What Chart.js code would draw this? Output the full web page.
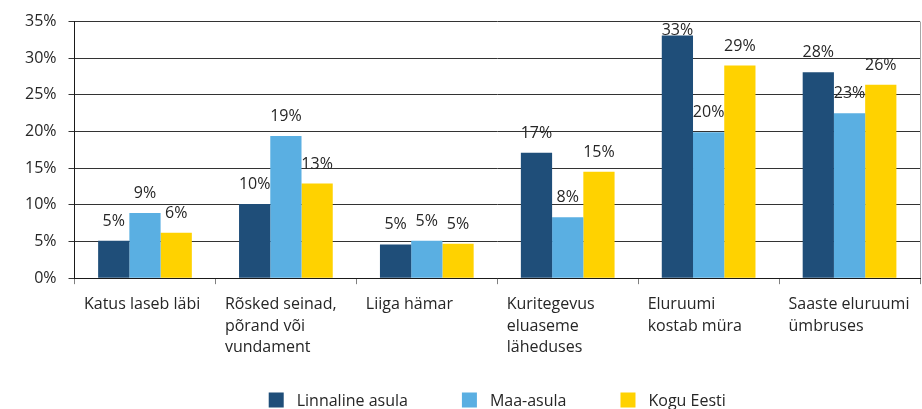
<!DOCTYPE html>
<html>
<head>
<meta charset="utf-8">
<script src="https://cdn.jsdelivr.net/npm/chart.js@4.4.0/dist/chart.umd.min.js"></script>
<style>
html, body { margin: 0; padding: 0; background: #fff; }
#wrap { width: 922px; height: 409px; }
</style>
</head>
<body>
<div id="wrap"><canvas id="chart" width="922" height="409"></canvas></div>
<script>
// andmed
const categories = [
    ['Katus laseb läbi'],
    ['Rõsked seinad,', 'põrand või', 'vundament'],
    ['Liiga hämar'],
    ['Kuritegevus', 'eluaseme', 'läheduses'],
    ['Eluruumi', 'kostab müra'],
    ['Saaste eluruumi', 'ümbruses']
];
const seriesNames = ['Linnaline asula', 'Maa-asula', 'Kogu Eesti'];
const linnaline = [5.1, 10.1, 4.6, 17.1, 33.1, 28.1];
const maaAsula = [8.9, 19.4, 5.1, 8.3, 19.9, 22.5];
const koguEesti = [6.2, 12.9, 4.7, 14.5, 29.0, 26.4];
const yTicks = [0, 5, 10, 15, 20, 25, 30, 35];
const colors = ['#1f4e79', '#5aafe2', '#ffd200'];

const FONT = '"Open Sans", sans-serif';
const TEXT = '#262626';

// väärtused tulpade kohale
const valueLabels = {
    id: 'valueLabels',
    afterDatasetsDraw(chart) {
        const ctx = chart.ctx;
        ctx.save();
        ctx.font = '16px ' + FONT;
        ctx.fillStyle = TEXT;
        ctx.textAlign = 'center';
        ctx.textBaseline = 'alphabetic';
        chart.data.datasets.forEach((ds, i) => {
            chart.getDatasetMeta(i).data.forEach((bar, j) => {
                let y = Math.max(bar.y - 15, chart.chartArea.top + 13);
                ctx.fillText(Math.round(ds.data[j]) + '%', bar.x, y);
            });
        });
        ctx.restore();
    }
};

// legend all
const bottomLegend = {
    id: 'bottomLegend',
    afterDraw(chart) {
        const ctx = chart.ctx;
        ctx.save();
        ctx.font = '16px ' + FONT;
        ctx.textBaseline = 'middle';
        ctx.textAlign = 'left';
        const box = 15, gapText = 13, gapItem = 54;
        const widths = seriesNames.map(n => ctx.measureText(n).width);
        let total = widths.reduce((a, w) => a + box + gapText + w, 0) + gapItem * (seriesNames.length - 1);
        let x = (chart.chartArea.left + chart.chartArea.right) / 2 - total / 2;
        const cy = chart.height - 9;
        seriesNames.forEach((name, i) => {
            ctx.fillStyle = colors[i];
            ctx.fillRect(x, cy - box / 2, box, box);
            ctx.fillStyle = TEXT;
            ctx.fillText(name, x + box + gapText, cy + 1);
            x += box + gapText + widths[i] + gapItem;
        });
        ctx.restore();
    }
};

const ctx = document.getElementById('chart').getContext('2d');
const chart = new Chart(ctx, {
    type: 'bar',
    data: {
        labels: categories,
        datasets: [linnaline, maaAsula, koguEesti].map((d, i) => ({
            label: seriesNames[i],
            data: d,
            backgroundColor: colors[i],
            borderWidth: 0,
            categoryPercentage: 0.665,
            barPercentage: 1
        }))
    },
    options: {
        responsive: false,
        animation: false,
        devicePixelRatio: 1,
        layout: {
            autoPadding: false,
            padding: { top: 18, right: 2, bottom: 41, left: 13 }
        },
        plugins: {
            legend: { display: false },
            tooltip: { enabled: false }
        },
        scales: {
            x: {
                // vasakule joondatud sildid ei tohi parempoolset ruumi võtta
                afterFit: s => { s.paddingLeft = 0; s.paddingRight = 0; },
                grid: {
                    offset: true,
                    drawOnChartArea: true,
                    color: c => c.tick ? 'rgba(0,0,0,0)' : '#a6a6a6',
                    tickColor: '#808080',
                    tickLength: 6
                },
                border: { color: '#1a1a1a' },
                ticks: {
                    align: 'start',
                    labelOffset: -61,
                    padding: 10,
                    color: TEXT,
                    font: { family: FONT, size: 16, lineHeight: 1.33 },
                    autoSkip: false,
                    maxRotation: 0
                }
            },
            y: {
                min: 0,
                max: 35,
                afterBuildTicks: s => { s.ticks = yTicks.map(v => ({ value: v })); },
                grid: { color: '#333', tickColor: '#333', tickLength: 6 },
                border: { color: '#1a1a1a' },
                ticks: {
                    padding: 12,
                    color: TEXT,
                    font: { family: FONT, size: 16 },
                    callback: v => v + '%'
                }
            }
        }
    },
    plugins: [valueLabels, bottomLegend]
});
</script>
</body>
</html>
